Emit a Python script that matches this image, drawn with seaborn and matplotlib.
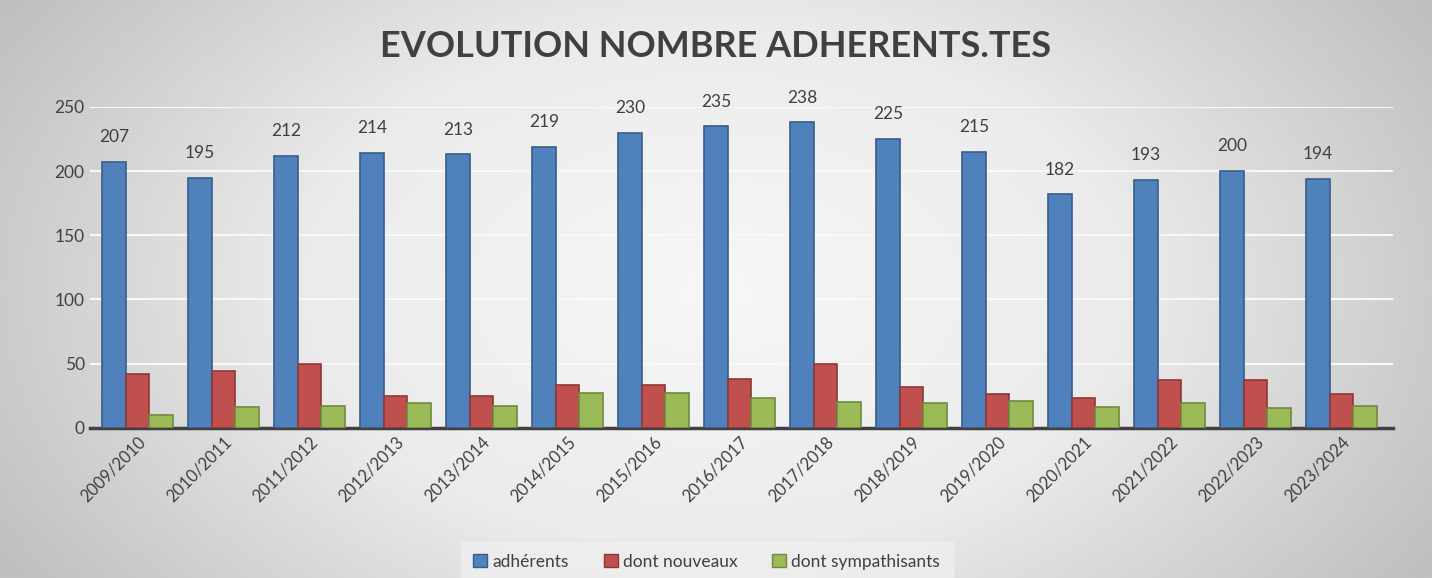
import matplotlib
matplotlib.use("Agg")
import matplotlib.pyplot as plt
import numpy as np
import pandas as pd
import seaborn as sns

seasons = ["2009/2010", "2010/2011", "2011/2012", "2012/2013", "2013/2014",
           "2014/2015", "2015/2016", "2016/2017", "2017/2018", "2018/2019",
           "2019/2020", "2020/2021", "2021/2022", "2022/2023", "2023/2024"]
adherents = [207, 195, 212, 214, 213, 219, 230, 235, 238, 225, 215, 182, 193, 200, 194]
nouveaux = [42, 44, 50, 25, 25, 33, 33, 38, 50, 32, 26, 23, 37, 37, 26]
sympathisants = [10, 16, 17, 19, 17, 27, 27, 23, 20, 19, 21, 16, 19, 15, 17]
series_names = ["adhérents", "dont nouveaux", "dont sympathisants"]
colors = ["#4F81BD", "#C0504D", "#9BBB59"]
edges = ["#385D8A", "#8C3836", "#71893F"]

df = pd.DataFrame({
    "saison": seasons * 3,
    "valeur": adherents + nouveaux + sympathisants,
    "serie": [series_names[0]] * 15 + [series_names[1]] * 15 + [series_names[2]] * 15,
})

sns.set_theme(style="white")
plt.rcParams["font.family"] = ["Lato", "DejaVu Sans"]

fig = plt.figure(figsize=(14.32, 5.78), dpi=100)

# gradient background (light centre, grey edges)
bg = fig.add_axes([0, 0, 1, 1], zorder=-10)
xx = np.linspace(-1, 1, 400)
yy = np.linspace(-1, 1, 200)
X, Y = np.meshgrid(xx, yy)
R = np.sqrt((X * 0.95) ** 2 + (Y * 0.6) ** 2)
bg.imshow(R, cmap=sns.blend_palette(["#f7f7f7", "#ebebeb", "#c0c0c0"], as_cmap=True),
          aspect="auto", extent=[0, 1, 0, 1], vmin=0, vmax=1.1)
bg.axis("off")

ax = fig.add_axes([0.063, 0.26, 0.91, 0.555])
ax.patch.set_alpha(0)
sns.barplot(data=df, x="saison", y="valeur", hue="serie", palette=colors,
            width=0.82, ax=ax, legend=False, saturation=1)

for i, cont in enumerate(ax.containers):
    for bar in cont:
        bar.set_edgecolor(edges[i])
        bar.set_linewidth(1.2)
        bar.set_zorder(3)

ax.bar_label(ax.containers[0], labels=[str(v) for v in adherents], padding=12,
             fontsize=12.5, color="#404040")

ax.set_ylim(0, 250)
ax.set_xlim(-0.55, 14.6)
ax.set_yticks([0, 50, 100, 150, 200, 250])
ax.yaxis.grid(True, color="#f8f8f8", linewidth=1.5, zorder=0)
ax.set_axisbelow(True)
for s in ["top", "right", "left"]:
    ax.spines[s].set_visible(False)
ax.spines["bottom"].set_color("#404040")
ax.spines["bottom"].set_linewidth(2.5)
ax.set_xlabel("")
ax.set_ylabel("")
ax.tick_params(axis="y", labelsize=12.5, labelcolor="#404040", length=0, pad=4)
ax.tick_params(axis="x", labelsize=12, labelcolor="#404040", length=0, pad=4)
plt.setp(ax.get_xticklabels(), rotation=45, ha="right", rotation_mode="anchor")

fig.text(0.5, 0.92, "EVOLUTION NOMBRE ADHERENTS.TES", ha="center", va="center",
         fontsize=26, fontweight="bold", color="#404040")

handles = [plt.Rectangle((0, 0), 1, 1, facecolor=c, edgecolor=e) for c, e in zip(colors, edges)]
leg = fig.legend(handles, series_names, loc="center", bbox_to_anchor=(0.4935, 0.028),
                 ncol=3, frameon=True, fontsize=12.5, handlelength=0.8, handleheight=0.8,
                 handletextpad=0.3, columnspacing=2.0, borderpad=0.35)
leg.get_frame().set_facecolor("#efefef")
leg.get_frame().set_edgecolor("#e6e6e6")
leg.get_frame().set_boxstyle("square", pad=0.45)
for t in leg.get_texts():
    t.set_color("#404040")

fig.savefig("out.png", dpi=100)
